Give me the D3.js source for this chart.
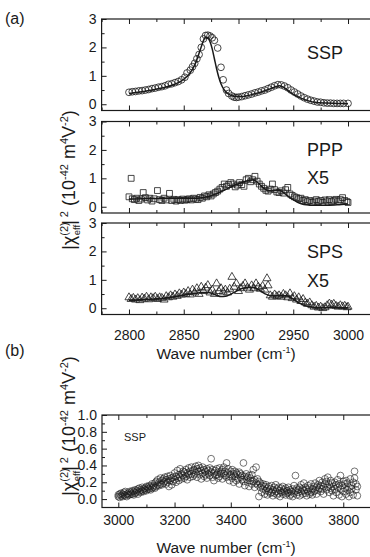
<!DOCTYPE html>
<html>
<head>
<meta charset="utf-8">
<script src="https://cdn.jsdelivr.net/npm/d3@7"></script>
<style>
  html, body { margin: 0; padding: 0; background: #fff; }
  svg { display: block; font-family: "Liberation Sans", Arial, sans-serif; }
</style>
</head>
<body>
<div id="chart-container"></div>
<script>
// --- data ---
// panel (a): [wave number, |chi|^2]
const sspPoints = [[2800,0.42],[2803,0.44],[2806,0.45],[2809,0.47],[2812,0.48],[2815,0.5],[2818,0.52],[2821,0.55],[2824,0.57],[2827,0.6],[2830,0.62],[2833,0.65],[2836,0.7],[2839,0.72],[2842,0.76],[2845,0.8],[2848,0.86],[2851,0.95],[2853,1.1],[2856,1.2],[2858,1.32],[2860,1.44],[2862,1.6],[2864,1.75],[2866,2.0],[2868,2.3],[2870,2.42],[2872,2.43],[2874,2.4],[2876,2.34],[2878,2.25],[2881,1.98],[2884,1.3],[2886,0.86],[2889,0.5],[2891,0.38],[2894,0.29],[2896,0.25],[2898,0.24],[2900,0.25],[2903,0.27],[2906,0.3],[2909,0.33],[2912,0.36],[2915,0.4],[2918,0.43],[2921,0.47],[2924,0.5],[2927,0.55],[2930,0.6],[2933,0.65],[2936,0.69],[2939,0.68],[2942,0.64],[2945,0.58],[2948,0.5],[2951,0.43],[2954,0.36],[2957,0.29],[2960,0.23],[2963,0.18],[2966,0.14],[2969,0.11],[2972,0.08],[2975,0.07],[2978,0.05],[2981,0.04],[2984,0.04],[2987,0.03],[2990,0.03],[2993,0.03],[2996,0.03],[3000,0.03]];
const sspFit = [[2800,0.38],[2810,0.43],[2820,0.49],[2830,0.57],[2840,0.68],[2845,0.76],[2850,0.88],[2855,1.06],[2860,1.38],[2863,1.68],[2866,2.02],[2868,2.24],[2870,2.36],[2872,2.34],[2874,2.2],[2876,1.95],[2878,1.6],[2880,1.25],[2882,0.95],[2884,0.72],[2887,0.5],[2890,0.38],[2894,0.3],[2898,0.27],[2902,0.27],[2908,0.3],[2914,0.36],[2920,0.42],[2926,0.5],[2930,0.56],[2934,0.62],[2937,0.65],[2940,0.62],[2943,0.55],[2946,0.45],[2950,0.35],[2955,0.25],[2960,0.17],[2965,0.11],[2970,0.07],[2980,0.04],[2990,0.03],[3000,0.02]];

const pppPoints = [[2800,0.35],[2802,1.0],[2803,0.28],[2805,0.25],[2807,0.3],[2809,0.22],[2811,0.27],[2813,0.5],[2815,0.32],[2817,0.24],[2819,0.3],[2821,0.2],[2823,0.28],[2826,0.57],[2828,0.25],[2830,0.22],[2832,0.3],[2834,0.24],[2837,0.47],[2839,0.22],[2841,0.26],[2843,0.2],[2845,0.25],[2847,0.22],[2849,0.27],[2851,0.23],[2853,0.25],[2855,0.28],[2857,0.24],[2859,0.3],[2861,0.27],[2863,0.25],[2865,0.33],[2867,0.3],[2869,0.38],[2871,0.35],[2873,0.42],[2875,0.38],[2877,0.45],[2879,0.5],[2881,0.55],[2883,0.62],[2885,0.68],[2887,0.8],[2889,0.72],[2891,0.78],[2893,0.85],[2895,0.8],[2897,0.7],[2899,0.76],[2901,0.85],[2903,0.78],[2905,0.72],[2907,0.95],[2909,1.0],[2911,0.88],[2913,0.95],[2915,1.07],[2917,0.9],[2919,0.8],[2921,0.72],[2923,0.65],[2925,0.58],[2927,0.55],[2929,0.62],[2931,0.8],[2933,0.6],[2935,0.52],[2937,0.5],[2939,0.56],[2941,0.48],[2943,0.6],[2945,0.68],[2947,0.45],[2949,0.4],[2951,0.35],[2953,0.32],[2955,0.28],[2957,0.3],[2959,0.22],[2961,0.25],[2963,0.18],[2965,0.22],[2967,0.15],[2969,0.2],[2971,0.25],[2973,0.18],[2975,0.22],[2977,0.15],[2979,0.24],[2981,0.2],[2983,0.25],[2985,0.18],[2987,0.22],[2989,0.26],[2991,0.2],[2993,0.25],[2995,0.32],[2997,0.22],[2999,0.18],[3000,0.15]];
const pppFit = [[2800,0.27],[2820,0.29],[2840,0.3],[2860,0.3],[2865,0.31],[2870,0.34],[2875,0.39],[2880,0.46],[2885,0.55],[2890,0.64],[2895,0.73],[2900,0.81],[2905,0.88],[2910,0.93],[2913,0.94],[2916,0.9],[2919,0.8],[2922,0.68],[2925,0.6],[2928,0.56],[2931,0.56],[2934,0.58],[2937,0.58],[2940,0.53],[2943,0.44],[2946,0.35],[2950,0.25],[2954,0.16],[2958,0.1],[2962,0.07],[2970,0.05],[2980,0.05],[2990,0.07],[3000,0.1]];

const spsPoints = [[2800,0.38],[2802,0.32],[2804,0.36],[2806,0.3],[2808,0.35],[2810,0.28],[2812,0.37],[2814,0.33],[2816,0.4],[2818,0.31],[2820,0.38],[2822,0.35],[2824,0.4],[2826,0.32],[2828,0.38],[2830,0.36],[2832,0.3],[2834,0.42],[2836,0.38],[2838,0.45],[2840,0.4],[2842,0.48],[2844,0.43],[2846,0.52],[2848,0.47],[2850,0.55],[2852,0.5],[2854,0.6],[2856,0.48],[2858,0.65],[2860,0.55],[2862,0.7],[2864,0.5],[2866,0.75],[2868,0.6],[2870,0.72],[2872,0.81],[2874,0.55],[2876,0.65],[2878,0.5],[2880,0.87],[2882,0.6],[2884,0.7],[2886,0.58],[2888,0.65],[2890,0.55],[2892,0.68],[2894,1.1],[2896,0.75],[2898,0.87],[2900,0.6],[2902,0.7],[2904,0.78],[2906,0.87],[2908,0.72],[2910,0.65],[2912,0.8],[2914,0.7],[2916,0.87],[2918,0.75],[2920,0.68],[2922,0.78],[2924,0.65],[2926,1.05],[2927,0.8],[2929,0.45],[2931,0.4],[2933,0.48],[2935,0.42],[2937,0.45],[2939,0.4],[2941,0.5],[2943,0.45],[2945,0.38],[2947,0.52],[2949,0.35],[2951,0.42],[2953,0.3],[2955,0.38],[2957,0.25],[2959,0.32],[2961,0.2],[2963,0.15],[2965,0.2],[2967,0.1],[2969,0.05],[2971,0.08],[2973,0.02],[2975,0.05],[2977,0.0],[2979,0.03],[2981,0.1],[2983,0.16],[2985,0.12],[2987,0.15],[2989,0.08],[2991,0.05],[2993,0.1],[2995,0.06],[2997,0.08],[2999,0.03],[3000,0.05]];
const spsFit = [[2800,0.28],[2810,0.3],[2820,0.32],[2830,0.35],[2840,0.4],[2850,0.46],[2860,0.52],[2866,0.55],[2872,0.55],[2876,0.52],[2880,0.46],[2884,0.41],[2888,0.42],[2892,0.48],[2896,0.56],[2900,0.64],[2905,0.71],[2910,0.74],[2914,0.73],[2918,0.66],[2922,0.56],[2926,0.48],[2930,0.44],[2935,0.44],[2940,0.45],[2944,0.44],[2948,0.37],[2952,0.27],[2956,0.17],[2960,0.1],[2965,0.05],[2970,0.03],[2980,0.02],[2990,0.02],[3000,0.02]];

// panel (b): each row is a wave number followed by the readings at it
const ohRows = [
  [3000,0.05,0.03],[3005,0.02,0.06],[3010,0.04,0.07],[3015,0.03,0.06],[3020,0.05,0.08],[3025,0.04,0.09],[3030,0.06,0.03],[3035,0.07,0.05],[3040,0.05,0.09],[3045,0.08,0.06],
  [3050,0.06,0.10],[3055,0.09,0.05],[3060,0.07,0.11],[3065,0.10,0.08],[3070,0.06,0.12],[3075,0.09,0.13],[3080,0.11,0.08],[3085,0.10,0.14],[3090,0.12,0.09],[3095,0.13,0.11],
  [3100,0.10,0.15],[3105,0.14,0.12],[3110,0.12,0.16],[3115,0.15,0.11],[3120,0.13,0.18],[3125,0.16,0.14],[3130,0.19,0.13],[3135,0.15,0.21],[3140,0.17,0.23],[3145,0.20,0.16],
  [3150,0.18,0.25],[3155,0.22,0.17],[3160,0.19,0.24],[3165,0.21,0.26],[3170,0.23,0.18],[3175,0.20,0.27],[3180,0.24,0.15],[3185,0.22,0.28],[3190,0.17,0.25],[3195,0.26,0.21],
  [3200,0.23,0.31],[3205,0.27,0.20],[3210,0.25,0.34],[3215,0.29,0.22],[3220,0.26,0.36],[3225,0.30,0.24],[3230,0.28,0.33],[3235,0.32,0.25],[3240,0.27,0.35],[3245,0.31,0.23],
  [3250,0.29,0.37],[3255,0.33,0.26],[3260,0.30,0.38],[3265,0.27,0.34],[3270,0.35,0.29],[3275,0.31,0.39],[3280,0.26,0.36],[3285,0.33,0.40],[3290,0.29,0.37],[3295,0.34,0.24],
  [3300,0.31,0.38],[3305,0.27,0.35],[3310,0.33,0.29],[3315,0.36,0.25],[3320,0.30,0.34],[3325,0.28,0.37],[3330,0.48,0.32],[3335,0.26,0.35],[3340,0.31,0.22],[3345,0.34,0.28],
  [3350,0.29,0.36],[3355,0.32,0.25],[3360,0.27,0.37],[3365,0.33,0.30],[3370,0.24,0.35],[3375,0.30,0.38],[3380,0.28,0.33],[3385,0.43,0.26],[3390,0.31,0.36],[3395,0.27,0.22],
  [3400,0.33,0.29],[3405,0.25,0.35],[3410,0.30,0.20],[3415,0.27,0.33],[3420,0.22,0.31],[3425,0.29,0.24],[3430,0.32,0.18],[3435,0.26,0.30],[3440,0.23,0.28],[3445,0.43,0.21],
  [3450,0.27,0.16],[3455,0.24,0.30],[3460,0.20,0.26],[3465,0.28,0.15],[3470,0.22,0.25],[3475,0.18,0.29],[3480,0.35,0.21],[3485,0.23,0.14],[3490,0.38,0.19],[3495,0.17,0.24],
  [3500,0.21,0.03],[3505,0.14,0.19],[3510,0.16,0.08],[3515,0.12,0.18],[3520,0.15,0.06],[3525,0.10,0.17],[3530,0.13,0.05],[3535,0.09,0.15],[3540,0.12,0.07],[3545,0.08,0.16],
  [3550,0.11,0.04],[3555,0.14,0.07],[3560,0.09,0.17],[3565,0.12,0.05],[3570,0.07,0.14],[3575,0.10,0.03],[3580,0.13,0.08],[3585,0.06,0.15],[3590,0.09,0.11],[3595,0.05,0.13],
  [3600,0.10,0.07],[3605,0.08,0.14],[3610,0.04,0.11],[3615,0.09,0.06],[3620,0.12,0.03],[3625,0.07,0.16],[3630,0.28,0.10],[3635,0.05,0.13],[3640,0.11,0.08],[3645,0.14,0.04],
  [3650,0.09,0.17],[3655,0.12,0.06],[3660,0.19,0.10],[3665,0.07,0.14],[3670,0.11,0.04],[3675,0.16,0.09],[3680,0.13,0.06],[3685,0.08,0.18],[3690,0.12,0.05],[3695,0.15,0.09],
  [3700,0.10,0.19],[3705,0.06,0.14],[3710,0.17,0.11],[3715,0.13,0.22],[3720,0.09,0.16],[3725,0.20,0.12],[3730,0.15,0.06],[3735,0.24,0.18],[3740,0.11,0.21],[3745,0.26,0.14],
  [3750,0.17,0.08],[3755,0.22,0.13],[3760,0.10,0.19],[3765,0.15,0.04],[3770,0.20,0.12],[3775,0.08,0.17],[3780,0.14,0.23],[3785,0.05,0.18],[3790,0.28,0.12],[3795,0.16,0.03],
  [3800,0.21,0.09],[3805,0.13,0.18],[3810,0.06,0.22],[3815,0.19,0.11],[3820,0.14,0.03],[3825,0.24,0.08],[3830,0.16,0.12],[3835,0.05,0.20],[3840,0.33,0.25],[3845,0.11,0.18],
  [3850,0.15,0.04]
];

const xMajorA = [2800, 2850, 2900, 2950, 3000];
const xMinorA = [2775, 2825, 2875, 2925, 2975, 3025];
const yMajorA = [0, 1, 2, 3];
const yMinorA = [0.5, 1.5, 2.5];
const xMajorB = [3000, 3200, 3400, 3600, 3800];
const xMinorB = [3100, 3300, 3500, 3700, 3900];
const yMajorB = [0, 0.2, 0.4, 0.6, 0.8, 1.0];
const yMinorB = [0.1, 0.3, 0.5, 0.7, 0.9];

const ink = "#1a1a1a";
const width = 370;
const height = 557;

const svg = d3
  .select("#chart-container")
  .append("svg")
  .attr("width", width)
  .attr("height", height);

function styleAxis(g, labelled) {
  g.select(".domain").remove();
  g.selectAll(".tick line").attr("stroke", ink).attr("stroke-width", 1);
  g.selectAll("text")
    .style("font-size", "14px")
    .style("font-family", '"Liberation Sans", Arial, sans-serif')
    .attr("fill", ink);
  if (!labelled) g.selectAll("text").remove();
}

// frame with inward ticks on all visible sides
function frame(x, y, xMajor, xMinor, yMajor, yMinor, yFormat, xLabels, xPad) {
  const [x0, x1] = x.range();
  const [y0, y1] = y.range();

  svg.append("g").attr("transform", `translate(0,${y0})`)
    .call(d3.axisBottom(x).tickValues(xMajor).tickSize(-5).tickPadding(xPad).tickFormat(d3.format("d")))
    .call((g) => styleAxis(g, xLabels));
  svg.append("g").attr("transform", `translate(0,${y0})`)
    .call(d3.axisBottom(x).tickValues(xMinor).tickSize(-3).tickFormat(""))
    .call((g) => styleAxis(g, false));
  svg.append("g").attr("transform", `translate(0,${y1})`)
    .call(d3.axisTop(x).tickValues(xMajor).tickSize(-5))
    .call((g) => styleAxis(g, false));
  svg.append("g").attr("transform", `translate(0,${y1})`)
    .call(d3.axisTop(x).tickValues(xMinor).tickSize(-3))
    .call((g) => styleAxis(g, false));
  svg.append("g").attr("transform", `translate(${x0},0)`)
    .call(d3.axisLeft(y).tickValues(yMajor).tickSize(-5).tickPadding(5).tickFormat(yFormat))
    .call((g) => styleAxis(g, true));
  svg.append("g").attr("transform", `translate(${x0},0)`)
    .call(d3.axisLeft(y).tickValues(yMinor).tickSize(-3).tickFormat(""))
    .call((g) => styleAxis(g, false));

  svg.append("rect")
    .attr("x", x0).attr("y", y1)
    .attr("width", x1 - x0).attr("height", y0 - y1)
    .attr("fill", "none").attr("stroke", ink).attr("stroke-width", 1.2);
}

function marks(x, y, points, symbolType, size, sw) {
  const sym = d3.symbol().type(symbolType).size(size);
  svg.append("g").selectAll("path")
    .data(points)
    .join("path")
    .attr("transform", (d) => `translate(${x(d[0])},${y(d[1])})`)
    .attr("d", sym)
    .attr("fill", "none")
    .attr("stroke", ink)
    .attr("stroke-width", sw);
}

function yTitle(cx, cy) {
  const t = svg.append("text")
    .attr("transform", `translate(${cx},${cy}) rotate(-90)`)
    .attr("text-anchor", "middle")
    .attr("fill", ink)
    .style("font-size", "18px");
  t.append("tspan").text("|χ");
  t.append("tspan").attr("dy", -7).style("font-size", "11px").text("(2)");
  t.append("tspan").attr("dx", -13).attr("dy", 12).style("font-size", "9.5px").text("eff");
  t.append("tspan").attr("dy", -5).text("|");
  t.append("tspan").attr("dx", 3).attr("dy", -7).style("font-size", "11px").text("2");
  t.append("tspan").attr("dy", 7).text(" (10");
  t.append("tspan").attr("dy", -7).style("font-size", "11px").text("-42");
  t.append("tspan").attr("dy", 7).text(" m");
  t.append("tspan").attr("dy", -7).style("font-size", "11px").text("4");
  t.append("tspan").attr("dy", 7).text("V");
  t.append("tspan").attr("dy", -7).style("font-size", "11px").text("-2");
  t.append("tspan").attr("dy", 7).text(")");
}

function xTitle(cx, baseline) {
  const t = svg.append("text")
    .attr("x", cx).attr("y", baseline)
    .attr("text-anchor", "middle")
    .attr("fill", ink)
    .style("font-size", "15.5px");
  t.append("tspan").text("Wave number (cm");
  t.append("tspan").attr("dy", -6).style("font-size", "9px").text("-1");
  t.append("tspan").attr("dy", 6).text(")");
}

function note(x, y, str, size) {
  svg.append("text").attr("x", x).attr("y", y)
    .attr("fill", ink).style("font-size", size + "px").text(str);
}

// --- panel (a) ---
const xA = d3.scaleLinear().domain([2775, 3025]).range([101.6, 375.4]);
const panelH = 91.5;
const panelsA = [
  { top: 19, points: sspPoints, fit: sspFit, symbol: d3.symbolCircle, size: 36, labels: ["SSP"], labelY: 40 },
  { top: 121.5, points: pppPoints, fit: pppFit, symbol: d3.symbolSquare, size: 34, labels: ["PPP", "X5"], labelY: 34 },
  { top: 223, points: spsPoints, fit: spsFit, symbol: d3.symbolTriangle, size: 28, labels: ["SPS", "X5"], labelY: 35 },
];

panelsA.forEach((p, i) => {
  const y = d3.scaleLinear().domain([-0.22, 3]).range([p.top + panelH, p.top]);
  frame(xA, y, xMajorA, xMinorA, yMajorA, yMinorA, d3.format("d"), i === 2, 16);

  const line = d3.line().x((d) => xA(d[0])).y((d) => y(d[1])).curve(d3.curveMonotoneX);
  svg.append("path").datum(p.fit)
    .attr("fill", "none").attr("stroke", ink).attr("stroke-width", 1.5)
    .attr("d", line);
  marks(xA, y, p.points, p.symbol, p.size, 0.8);

  p.labels.forEach((s, k) => note(307, p.top + p.labelY + k * 28.5, s, 18));
});

note(5, 24, "(a)", 16);
yTitle(75, 180);
xTitle(226, 359);

// --- panel (b) ---
const xB = d3.scaleLinear().domain([2942, 3900]).range([102, 371.4]);
const yB = d3.scaleLinear().domain([-0.1, 1.0]).range([507.5, 415]);
frame(xB, yB, xMajorB, xMinorB, yMajorB, yMinorB, d3.format(".1f"), true, 8);

const ohPoints = ohRows.flatMap((r) => r.slice(1).map((v) => [r[0], v]));
marks(xB, yB, ohPoints, d3.symbolCircle, 36, 0.6);

note(124, 441, "SSP", 11);
note(5, 356, "(b)", 16);
yTitle(75, 426);
xTitle(226, 553);
</script>
</body>
</html>
